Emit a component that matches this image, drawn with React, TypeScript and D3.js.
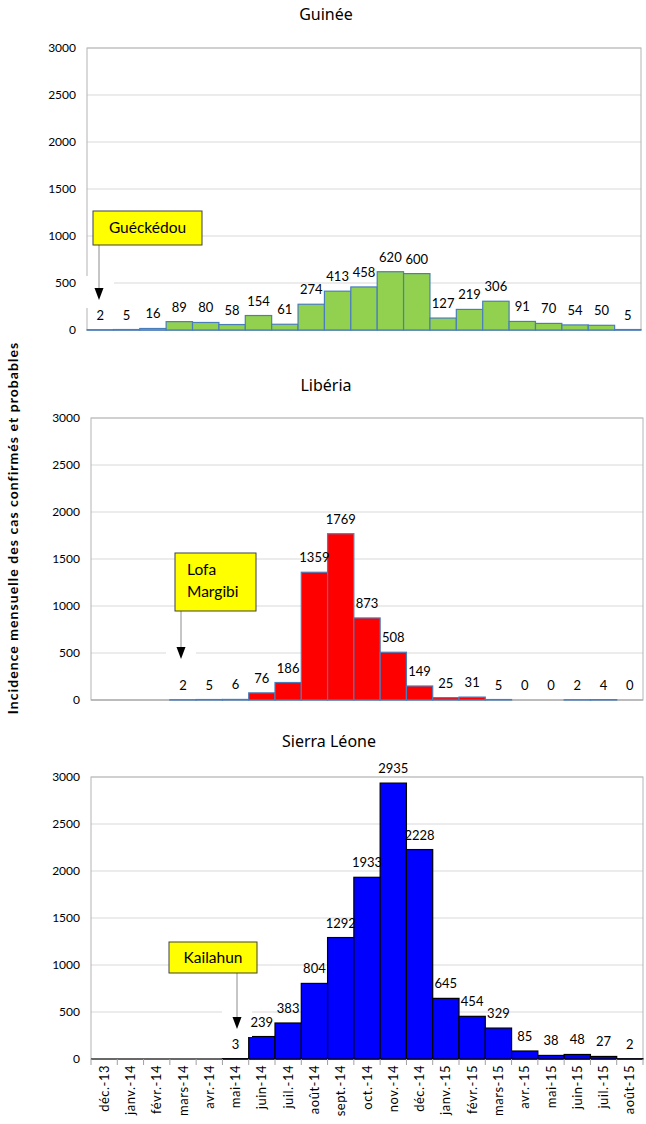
import React from "react";
import * as d3 from "d3";

// Monthly incidence of confirmed and probable cases, by country
const months = [
  "déc.-13", "janv.-14", "févr.-14", "mars-14", "avr.-14", "mai-14", "juin-14",
  "juil.-14", "août-14", "sept.-14", "oct.-14", "nov.-14", "déc.-14", "janv.-15",
  "févr.-15", "mars-15", "avr.-15", "mai-15", "juin-15", "juil.-15", "août-15",
];

const guinee: (number | null)[] = [
  2, 5, 16, 89, 80, 58, 154, 61, 274, 413, 458, 620, 600, 127, 219, 306, 91, 70, 54, 50, 5,
];

const liberia: (number | null)[] = [
  null, null, null, 2, 5, 6, 76, 186, 1359, 1769, 873, 508, 149, 25, 31, 5, 0, 0, 2, 4, 0,
];

const sierraLeone: (number | null)[] = [
  null, null, null, null, null, 3, 239, 383, 804, 1292, 1933, 2935, 2228, 645, 454, 329, 85, 38, 48, 27, 2,
];

const yTicks = [0, 500, 1000, 1500, 2000, 2500, 3000];

const FONT = "Lato, 'Open Sans', 'DejaVu Sans', sans-serif";
const TITLE_FONT = "'Noto Sans', 'Open Sans', sans-serif";

type Note = { lines: string[]; box: [number, number, number, number]; arrowX: number; headY: number; align: "middle" | "start" };

type PanelProps = {
  title: string;
  titleX: number;
  titleY: number;
  values: (number | null)[];
  x0: number;
  x1: number;
  yTop: number;
  yBottom: number;
  fill: string;
  stroke: string;
  baseline: string;
  showMonths: boolean;
  note: Note;
};

function Panel(p: PanelProps) {
  const x = d3.scaleBand<string>().domain(months).range([p.x0, p.x1]).padding(0);
  const y = d3.scaleLinear().domain([0, 3000]).range([p.yBottom, p.yTop]);
  const bw = x.bandwidth();
  const n = p.note;
  const [bx, by, bwid, bh] = n.box;
  const headH = 12;
  const headW = 9;
  const multi = n.lines.length > 1;

  return (
    <g>
      <text x={p.titleX} y={p.titleY} textAnchor="middle" fontSize={16} fontWeight={400} fill="#000" fontFamily={TITLE_FONT}>
        {p.title}
      </text>
      {/* gridlines */}
      {yTicks.map((t) => (
        <line key={"g" + t} x1={p.x0} x2={p.x1} y1={y(t)} y2={y(t)} stroke="#d9d9d9" strokeWidth={1} />
      ))}
      {/* frame */}
      <rect x={p.x0} y={p.yTop} width={p.x1 - p.x0} height={p.yBottom - p.yTop} fill="none" stroke="#b4b4b4" strokeWidth={1} />
      {/* y tick labels */}
      {yTicks.map((t) => (
        <text key={"t" + t} x={p.x0 - 11} y={y(t)} dy="0.35em" textAnchor="end" fontSize={12} fill="#000" fontFamily={FONT}>
          {t}
        </text>
      ))}
      <line x1={p.x0} x2={p.x1} y1={p.yBottom} y2={p.yBottom} stroke={p.baseline} strokeWidth={1.2} />
      {/* bars */}
      {p.values.map((v, i) =>
        v !== null && v > 0 ? (
          <rect
            key={"b" + i}
            x={x(months[i])!}
            y={y(v)}
            width={bw}
            height={y(0) - y(v)}
            fill={p.fill}
            stroke={p.stroke}
            strokeWidth={1.2}
          />
        ) : null
      )}
      {/* month ticks and labels */}
      {p.showMonths &&
        d3.range(months.length + 1).map((i) => (
          <line key={"k" + i} x1={p.x0 + i * bw} x2={p.x0 + i * bw} y1={p.yBottom} y2={p.yBottom + 6} stroke="#a0a0a0" strokeWidth={1} />
        ))}
      {p.showMonths &&
        months.map((m) => (
          <text
            key={"m" + m}
            transform={`translate(${x(m)! + bw / 2},${p.yBottom + 6}) rotate(-90)`}
            textAnchor="end"
            dy="0.35em"
            fontSize={13}
            letterSpacing={0.5}
            fill="#000"
            fontFamily={FONT}
          >
            {m}
          </text>
        ))}
      {/* annotation arrow */}
      <rect x={n.arrowX - 15} y={n.headY - headH - 12} width={30} height={headH + 20} fill="#fff" />
      <line x1={n.arrowX} x2={n.arrowX} y1={by + bh} y2={n.headY - headH} stroke="#8c8c8c" strokeWidth={1} />
      <path
        d={`M${n.arrowX - headW / 2},${n.headY - headH}L${n.arrowX + headW / 2},${n.headY - headH}L${n.arrowX},${n.headY}Z`}
        fill="#000"
      />
      {/* value labels */}
      {p.values.map((v, i) =>
        v !== null ? (
          <text
            key={"v" + i}
            x={x(months[i])! + bw / 2}
            y={y(v) - 10}
            textAnchor="middle"
            fontSize={13}
            fill="#000"
            fontFamily={FONT}
          >
            {v}
          </text>
        ) : null
      )}
      {/* annotation box */}
      <rect x={bx} y={by} width={bwid} height={bh} fill="#ffff00" stroke="#404040" strokeWidth={1} />
      {n.lines.map((l, k) => (
        <text
          key={"n" + k}
          x={n.align === "middle" ? bx + bwid / 2 : bx + 12}
          y={multi ? by + 17 + k * 22 : by + bh / 2}
          dy="0.35em"
          textAnchor={n.align}
          fontSize={15.5}
          fill="#000"
          fontFamily={FONT}
        >
          {l}
        </text>
      ))}
    </g>
  );
}

export default function App() {
  return (
    <svg
      width={646}
      height={1124}
      viewBox="0 0 646 1124"
      style={{ position: "absolute", left: 0, top: 0, background: "#fff" }}
    >
      <rect width={646} height={1124} fill="#fff" />
      <Panel
        title="Guinée"
        titleX={326}
        titleY={20}
        values={guinee}
        x0={87}
        x1={641}
        yTop={48}
        yBottom={330}
        fill="#92d050"
        stroke="#4a7ebb"
        baseline="#4a7ebb"
        showMonths={false}
        note={{ lines: ["Guéckédou"], box: [93, 211, 109, 34], arrowX: 99, headY: 300, align: "middle" }}
      />
      <Panel
        title="Libéria"
        titleX={326}
        titleY={391}
        values={liberia}
        x0={91}
        x1={643}
        yTop={418}
        yBottom={700}
        fill="#ff0000"
        stroke="#4a7ebb"
        baseline="#a6a6a6"
        showMonths={false}
        note={{ lines: ["Lofa", "Margibi"], box: [175, 553, 81, 58], arrowX: 181, headY: 659, align: "start" }}
      />
      <Panel
        title="Sierra Léone"
        titleX={329}
        titleY={747}
        values={sierraLeone}
        x0={91}
        x1={643}
        yTop={777}
        yBottom={1059}
        fill="#0000ff"
        stroke="#000000"
        baseline="#000000"
        showMonths={true}
        note={{ lines: ["Kailahun"], box: [169, 942, 88, 31], arrowX: 237, headY: 1029, align: "middle" }}
      />
      <text
        transform="translate(18,528) rotate(-90)"
        textAnchor="middle"
        fontSize={14}
        letterSpacing={1.05}
        fontWeight="bold"
        fill="#000"
        fontFamily={FONT}
      >
        Incidence mensuelle des cas confirmés et probables
      </text>
    </svg>
  );
}
